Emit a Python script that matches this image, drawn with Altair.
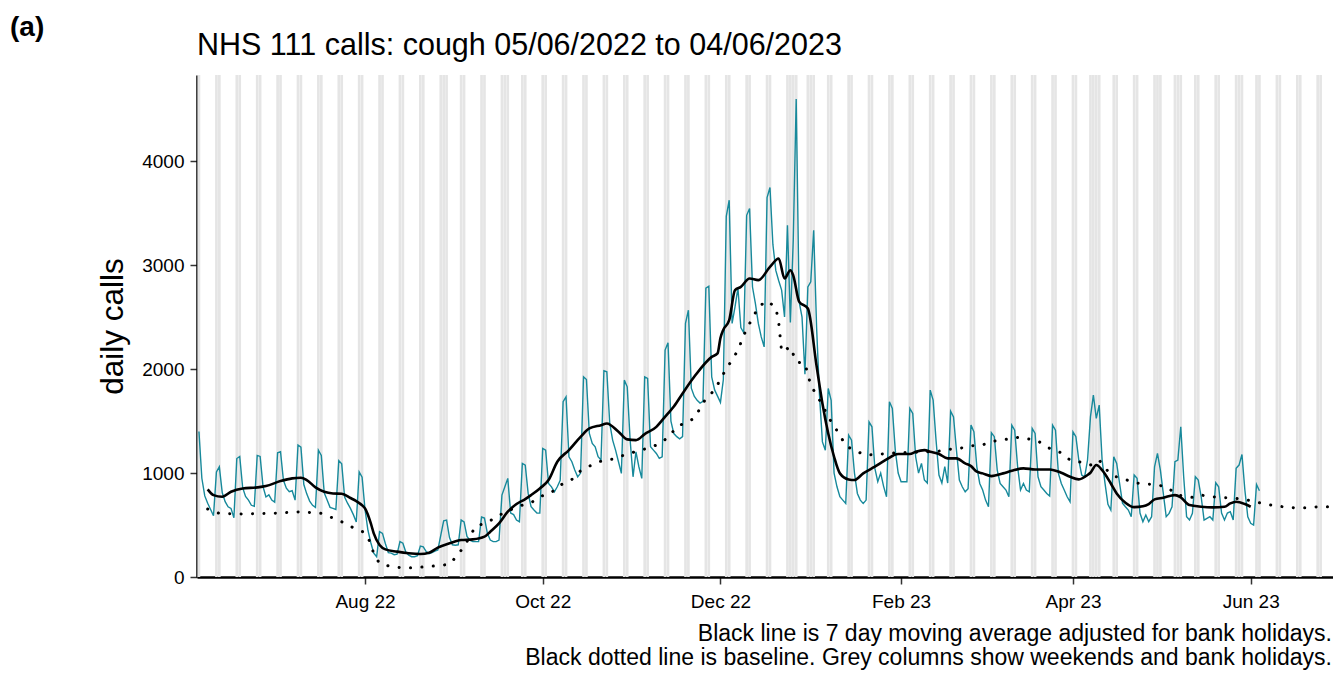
import altair as alt
import pandas as pd

TITLE = "NHS 111 calls: cough 05/06/2022 to 04/06/2023"
PANEL = "(a)"
CAPTION_1 = "Black line is 7 day moving average adjusted for bank holidays."
CAPTION_2 = "Black dotted line is baseline. Grey columns show weekends and bank holidays."

# daily calls, starting Sunday 05/06/2022, then Mon..Sun weeks
DAILY_START = "2022-06-05"
daily_calls = [
    1400,
    950, 780, 710, 650, 590, 1010, 1060,
    810, 725, 675, 660, 570, 1140, 1160,
    860, 775, 740, 690, 680, 1170, 1160,
    870, 770, 790, 740, 720, 1195, 1205,
    930, 855, 820, 830, 740, 1270, 1250,
    890, 800, 730, 690, 670, 1220, 1170,
    810, 740, 670, 660, 650, 1120, 1090,
    770, 710, 660, 600, 530, 1010, 960,
    650, 450, 330, 230, 195, 436, 420,
    320, 235, 230, 215, 220, 340, 325,
    240, 210, 195, 195, 205, 298, 290,
    245, 225, 235, 250, 260, 400, 540,
    548, 380, 310, 305, 310, 548, 530,
    390, 355, 340, 340, 340, 577, 567,
    420, 356, 340, 340, 356, 788, 868,
    949, 615, 600, 548, 532, 1093, 1077,
    804, 676, 644, 615, 615, 1237, 1221,
    900, 868, 820, 868, 930, 1686, 1734,
    1157, 1109, 1029, 964, 1000, 1926, 1900,
    1381, 1285, 1253, 1157, 1125, 1984, 1974,
    1477, 1317, 1221, 1109, 997, 1894, 1830,
    1317, 964, 1205, 1061, 949, 1926, 1910,
    1253, 1221, 1189, 1141, 1157, 2183, 2253,
    1500, 1380, 1350, 1330, 1350, 2440, 2567,
    1817, 1740, 1700, 1673, 1690, 2780, 2798,
    1926, 1800, 1740, 1680, 1900, 3470, 3625,
    2440, 2600, 2780, 2400, 2350, 3480, 3545,
    2790, 2631, 2440, 2310, 2214, 3650, 3747,
    3200, 2950, 2850, 2760, 2503, 3385, 2450,
    3250, 4600, 2650, 2500, 1950, 2790, 2840,
    3336, 2400, 1750, 1300, 1220, 1814, 1700,
    1000, 868, 772, 740, 708, 1365, 1317,
    1000, 804, 740, 708, 740, 1493, 1445,
    1045, 917, 1000, 872, 772, 1686, 1622,
    1221, 1000, 917, 917, 917, 1622, 1573,
    1157, 1000, 1093, 933, 904, 1798, 1702,
    1317, 981, 904, 1061, 904, 1596, 1541,
    1221, 933, 868, 820, 850, 1461, 1397,
    1060, 900, 837, 740, 676, 1388, 1350,
    1029, 900, 869, 837, 772, 1461, 1413,
    1060, 837, 900, 837, 820, 1429, 1381,
    964, 869, 837, 804, 779, 1461, 1413,
    996, 900, 837, 772, 724, 1397, 1350,
    1125, 981, 964, 1125, 1541, 1750, 1526,
    1654, 1125, 900, 700, 644, 1157, 1093,
    900, 711, 676, 644, 580, 981, 949,
    615, 532, 596, 532, 580, 1061, 1189,
    1029, 804, 580, 612, 676, 1109, 1125,
    1446, 964, 580, 548, 612, 964, 932,
    772, 548, 564, 580, 548, 907, 868,
    615, 548, 615, 628, 548, 1045, 1077,
    1179, 837, 580, 516, 500, 890, 830,
]

ma_dates = [
    "2022-06-08", "2022-06-10", "2022-06-13", "2022-06-16", "2022-06-20", "2022-06-25",
    "2022-06-28", "2022-07-03", "2022-07-07", "2022-07-10", "2022-07-12", "2022-07-15",
    "2022-07-18", "2022-07-21", "2022-07-24", "2022-07-27", "2022-07-29", "2022-07-31",
    "2022-08-01", "2022-08-03", "2022-08-04", "2022-08-06", "2022-08-08", "2022-08-12",
    "2022-08-16", "2022-08-20", "2022-08-23", "2022-08-26", "2022-08-30", "2022-09-03",
    "2022-09-07", "2022-09-11", "2022-09-13", "2022-09-16", "2022-09-19", "2022-09-22",
    "2022-09-25", "2022-09-27", "2022-09-30", "2022-10-03", "2022-10-06", "2022-10-10",
    "2022-10-14", "2022-10-17", "2022-10-21", "2022-10-23", "2022-10-27", "2022-10-30",
    "2022-11-02", "2022-11-05", "2022-11-09", "2022-11-11", "2022-11-13", "2022-11-15",
    "2022-11-18", "2022-11-22", "2022-11-28", "2022-11-30", "2022-12-01", "2022-12-02",
    "2022-12-04", "2022-12-06", "2022-12-08", "2022-12-11", "2022-12-14", "2022-12-18",
    "2022-12-21", "2022-12-23", "2022-12-25", "2022-12-26", "2022-12-28", "2022-12-31",
    "2023-01-03", "2023-01-05", "2023-01-07", "2023-01-09", "2023-01-11", "2023-01-14",
    "2023-01-16", "2023-01-19", "2023-01-23", "2023-01-27", "2023-01-31", "2023-02-04",
    "2023-02-06", "2023-02-09", "2023-02-11", "2023-02-14", "2023-02-17", "2023-02-20",
    "2023-02-23", "2023-02-25", "2023-02-27", "2023-03-01", "2023-03-04", "2023-03-08",
    "2023-03-11", "2023-03-15", "2023-03-19", "2023-03-24", "2023-03-28", "2023-03-31",
    "2023-04-03", "2023-04-06", "2023-04-07", "2023-04-09", "2023-04-11", "2023-04-14",
    "2023-04-16", "2023-04-19", "2023-04-22", "2023-04-25", "2023-04-27", "2023-04-29",
    "2023-05-02", "2023-05-06", "2023-05-08", "2023-05-11", "2023-05-15", "2023-05-19",
    "2023-05-23", "2023-05-25", "2023-05-27", "2023-05-30", "2023-06-01",
]
ma_values = [
    843, 788, 772, 820, 852, 862,
    875, 923, 949, 955, 933, 862,
    820, 804, 801, 760, 730, 690,
    660, 516, 420, 308, 266, 244,
    228, 221, 234, 282, 324, 356,
    362, 388, 436, 516, 628, 702,
    750, 788, 852, 933, 1109, 1221,
    1349, 1429, 1461, 1477, 1397, 1324,
    1317, 1375, 1445, 1509, 1574, 1640,
    1766, 1926, 2118, 2151, 2300, 2380,
    2471, 2760, 2791, 2872, 2856, 2984,
    3064, 2872, 2952, 2900, 2650, 2583,
    2030, 1670, 1381, 1157, 997, 939,
    933, 997, 1061, 1131, 1183, 1183,
    1205, 1221, 1205, 1183, 1141, 1141,
    1093, 1067, 1013, 997, 971, 997,
    1022, 1045, 1035, 1035, 1003, 964,
    939, 981, 1003, 1077, 1029, 900,
    804, 715, 672, 680, 702, 747,
    763, 788, 766, 692, 676, 670,
    676, 708, 724, 702, 676,
]

base_dates = [
    "2022-06-08", "2022-06-12", "2022-06-20", "2022-07-02", "2022-07-10", "2022-07-17",
    "2022-07-21", "2022-07-25", "2022-07-28", "2022-08-01", "2022-08-03", "2022-08-04",
    "2022-08-06", "2022-08-10", "2022-08-14", "2022-08-18", "2022-08-22", "2022-08-26",
    "2022-08-30", "2022-09-01", "2022-09-04", "2022-09-08", "2022-09-12", "2022-09-15",
    "2022-09-19", "2022-09-23", "2022-09-27", "2022-09-30", "2022-10-04", "2022-10-07",
    "2022-10-11", "2022-10-14", "2022-10-17", "2022-10-21", "2022-10-25", "2022-10-29",
    "2022-11-01", "2022-11-05", "2022-11-09", "2022-11-13", "2022-11-16", "2022-11-22",
    "2022-11-26", "2022-11-29", "2022-12-03", "2022-12-05", "2022-12-07", "2022-12-10",
    "2022-12-12", "2022-12-14", "2022-12-17", "2022-12-20", "2022-12-21", "2022-12-22",
    "2022-12-25", "2022-12-27", "2022-12-30", "2023-01-01", "2023-01-03", "2023-01-05",
    "2023-01-07", "2023-01-09", "2023-01-11", "2023-01-13", "2023-01-17", "2023-01-20",
    "2023-01-24", "2023-01-28", "2023-02-01", "2023-02-05", "2023-02-09", "2023-02-13",
    "2023-02-17", "2023-02-21", "2023-02-25", "2023-03-01", "2023-03-05", "2023-03-09",
    "2023-03-13", "2023-03-16", "2023-03-20", "2023-03-24", "2023-03-28", "2023-03-31",
    "2023-04-04", "2023-04-07", "2023-04-10", "2023-04-12", "2023-04-15", "2023-04-19",
    "2023-04-22", "2023-04-26", "2023-04-29", "2023-05-03", "2023-05-07", "2023-05-12",
    "2023-05-15", "2023-05-19", "2023-05-23", "2023-05-27", "2023-05-31", "2023-06-04",
    "2023-06-08", "2023-06-12", "2023-06-16", "2023-06-20", "2023-06-24", "2023-06-28",
    "2023-06-30",
]
base_values = [
    654, 612, 606, 615, 628, 612,
    567, 519, 474, 426, 324, 221,
    131, 99, 89, 89, 99, 109,
    122, 186, 292, 490, 522, 580,
    635, 683, 714, 772, 814, 884,
    939, 1022, 1067, 1115, 1135, 1173,
    1199, 1231, 1269, 1340, 1445, 1526,
    1718, 1798, 2006, 2086, 2183, 2391,
    2487, 2599, 2657, 2593, 2450, 2166,
    2214, 2070, 2055, 1846, 1750, 1654,
    1541, 1452, 1365, 1262, 1205, 1173,
    1180, 1189, 1199, 1199, 1205, 1205,
    1228, 1237, 1262, 1272, 1308, 1324,
    1343, 1333, 1308, 1237, 1195, 1125,
    1103, 1077, 1125, 1045, 971, 939,
    907, 894, 891, 868, 788, 766,
    788, 772, 763, 756, 740, 714,
    692, 676, 666, 666, 676, 676,
    676,
]

bank_holidays = [
    "2022-08-29", "2022-09-19", "2022-12-26", "2022-12-27", "2023-01-02",
    "2023-04-07", "2023-04-10", "2023-05-01", "2023-05-08", "2023-05-29",
]
CAL_START, CAL_END = "2022-06-04", "2023-07-02"

y_ticks = [0, 1000, 2000, 3000, 4000]
x_ticks = [(2022, 8), (2022, 10), (2022, 12), (2023, 2), (2023, 4), (2023, 6)]

ISO = "%Y-%m-%dT%H:%M:%SZ"
days = pd.date_range(DAILY_START, periods=len(daily_calls), freq="D")
daily_df = pd.DataFrame({"date": days.strftime(ISO), "calls": daily_calls})
ma_df = pd.DataFrame({"date": [d + "T00:00:00Z" for d in ma_dates], "calls": ma_values})
base_df = pd.DataFrame({"date": [d + "T00:00:00Z" for d in base_dates], "calls": base_values})

cal = pd.date_range(CAL_START, CAL_END, freq="D")
shade_days = [d for d in cal if d.weekday() >= 5 or d.strftime("%Y-%m-%d") in bank_holidays]
shade_df = pd.DataFrame({
    "start": [(d - pd.Timedelta(hours=11)).strftime(ISO) for d in shade_days],
    "end": [(d + pd.Timedelta(hours=11)).strftime(ISO) for d in shade_days],
})

W, H = 1136, 502
FONT = "Liberation Sans"

x_scale = alt.Scale(
    type="utc",
    domain=[alt.DateTime(year=2022, month=6, date=4, hours=8, utc=True),
            alt.DateTime(year=2023, month=6, date=29, hours=6, utc=True)],
)
y_scale = alt.Scale(domain=[0, 4830], nice=False)

x_axis = alt.Axis(
    values=[alt.DateTime(year=y, month=m, date=1, utc=True) for y, m in x_ticks],
    format="%b %y", labelAngle=0, title=None, grid=False,
    labelFontSize=19, labelColor="black", labelPadding=8,
    tickSize=7, tickWidth=1.5, tickColor="#333333",
    domainColor="black", domainWidth=2.5,
)
y_axis = alt.Axis(
    values=y_ticks, format="d", grid=False,
    labelFontSize=19, labelColor="black", labelPadding=6,
    tickSize=7, tickWidth=1.5, tickColor="#333333",
    domainColor="black", domainWidth=2.5,
    title="daily calls", titleFontSize=31.5, titleFontWeight="normal", titleColor="black",
    titleX=-68, titleY=H / 2, titleAngle=270, titleBaseline="bottom", titleAlign="center",
)

shade = alt.Chart(shade_df).mark_rect(color="#e5e5e5", clip=True).encode(
    x=alt.X("start:T", scale=x_scale, axis=x_axis),
    x2="end:T",
)

daily_line = alt.Chart(daily_df).mark_line(color="#17899B", strokeWidth=1.4).encode(
    x=alt.X("date:T", scale=x_scale, axis=x_axis),
    y=alt.Y("calls:Q", scale=y_scale, axis=y_axis),
)

base_line = alt.Chart(base_df).mark_line(
    color="black", strokeWidth=3, strokeDash=[0.1, 11.3], strokeCap="round", clip=True
).encode(
    x=alt.X("date:T", scale=x_scale, axis=x_axis),
    y=alt.Y("calls:Q", scale=y_scale, axis=y_axis),
)

ma_line = alt.Chart(ma_df).mark_line(color="black", strokeWidth=2.6, interpolate="monotone").encode(
    x=alt.X("date:T", scale=x_scale, axis=x_axis),
    y=alt.Y("calls:Q", scale=y_scale, axis=y_axis),
)

def text_layer(txt, x, y, **kw):
    return alt.Chart(pd.DataFrame({"t": [txt]})).mark_text(font=FONT, color="black", **kw).encode(
        text="t:N", x=alt.value(x), y=alt.value(y)
    )

title_t = text_layer(TITLE, 0, -20, align="left", baseline="alphabetic", fontSize=30.5)
panel_t = text_layer(PANEL, -187, -39, align="left", baseline="alphabetic", fontSize=28, fontWeight="bold")
cap1 = text_layer(CAPTION_1, W - 1, 566, align="right", baseline="alphabetic", fontSize=23)
cap2 = text_layer(CAPTION_2, W - 1, 590, align="right", baseline="alphabetic", fontSize=23)

chart = alt.layer(
    shade, daily_line, base_line, ma_line, title_t, panel_t, cap1, cap2
).properties(
    width=W, height=H,
    padding={"left": 189, "top": 67, "right": 0, "bottom": 93},
    autosize=alt.AutoSizeParams(type="none"),
    background="white",
).configure(font=FONT).configure_view(stroke=None).configure_axis(labelFont=FONT, titleFont=FONT)

chart.save("out.html", embed_options={"renderer": "svg", "actions": False})
